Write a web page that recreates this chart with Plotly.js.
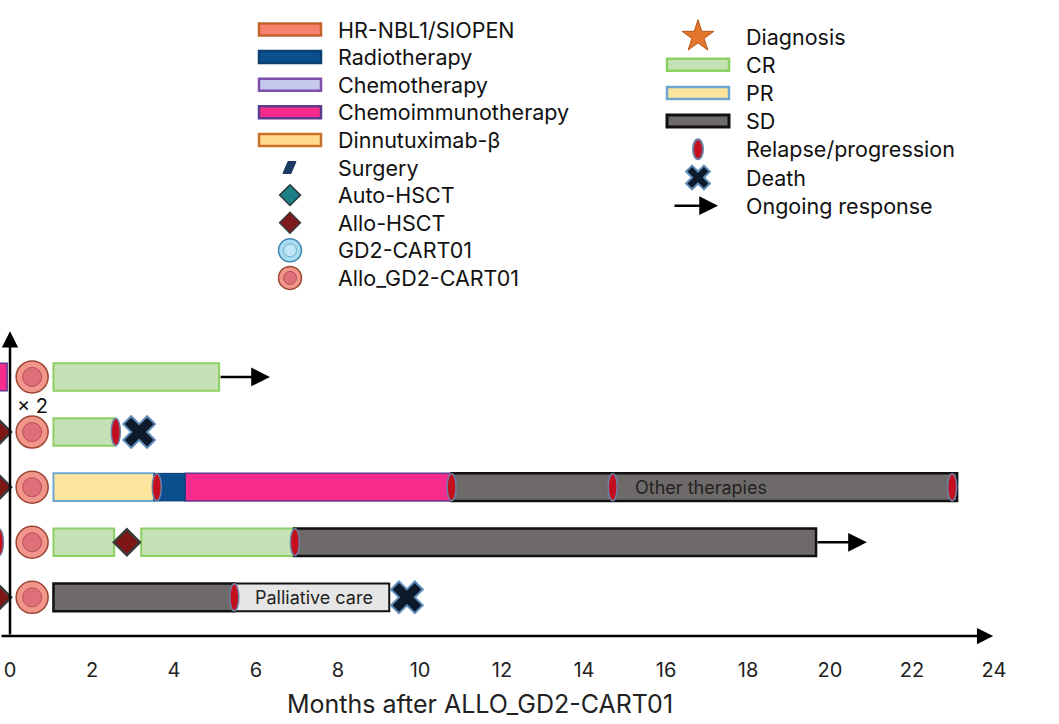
<!DOCTYPE html>
<html><head><meta charset="utf-8">
<script src="https://cdn.plot.ly/plotly-3.0.1.min.js"></script>
<style>html,body{margin:0;padding:0;background:#fff}</style>
</head><body><div id="chart" style="width:1059px;height:724px"></div>
<script>
// ---------------- DATA ----------------
// patients, top to bottom (one swim lane each)
const patientRows = [5, 4, 3, 2, 1];
// time of Allo_GD2-CART01 infusion (months)
const infusionTime = [0.54, 0.54, 0.54, 0.54, 0.54];

// treatment / response segments (months after ALLO_GD2-CART01)
const segRow   = [5, 5, 4, 3, 3, 3, 3, 2, 2, 2, 1, 1];
const segStart = [-1.0, 1.06, 1.06, 1.06, 3.51, 4.27, 10.77, 1.06, 3.20, 6.93, 1.06, 5.47];
const segEnd   = [-0.07, 5.10, 2.57, 3.51, 4.27, 10.77, 23.10, 2.54, 6.93, 19.66, 5.47, 9.25];
const segType  = ['Chemoimmunotherapy', 'CR', 'CR', 'PR', 'Radiotherapy', 'Chemoimmunotherapy',
                  'SD', 'CR', 'CR', 'SD', 'SD', 'Palliative care'];

// relapse / progression events
const relapseRow  = [4, 3, 3, 3, 3, 2, 2, 1];
const relapseTime = [2.58, 3.58, 10.77, 14.70, 22.98, -0.27, 6.95, 5.47];

// deaths
const deathRow  = [4, 1];
const deathTime = [3.15, 9.68];

// Allo-HSCT
const hsctRow  = [4, 3, 2, 1];
const hsctTime = [-0.29, -0.29, 2.85, -0.29];

// ongoing responses (arrows)
const ongoingRow  = [5, 2];
const ongoingFrom = [5.10, 19.66];
const ongoingTo   = [6.34, 20.90];

// text notes inside lanes
const noteText = ['Other therapies', 'Palliative care'];
const noteRow  = [3, 1];
const noteTime = [16.85, 7.41];

// axis ticks
const xTicks = [0, 2, 4, 6, 8, 10, 12, 14, 16, 18, 20, 22, 24];
const xTitle = 'Months after ALLO_GD2-CART01';

// legend labels
const legendLeft  = ['HR-NBL1/SIOPEN', 'Radiotherapy', 'Chemotherapy', 'Chemoimmunotherapy',
                     'Dinnutuximab-β', 'Surgery', 'Auto-HSCT', 'Allo-HSCT', 'GD2-CART01', 'Allo_GD2-CART01'];
const legendRight = ['Diagnosis', 'CR', 'PR', 'SD', 'Relapse/progression', 'Death', 'Ongoing response'];

// ---------------- STYLES ----------------
const FONT = 'Inter, "Open Sans", sans-serif';
const style = {
  'HR-NBL1/SIOPEN':     {fill: '#F8806E', line: '#C4622C', w: 2},
  'Radiotherapy':       {fill: '#0B4F8E', line: '#0B3F72', w: 1},
  'Chemotherapy':       {fill: '#C7C8EE', line: '#7B4FAA', w: 2},
  'Chemoimmunotherapy': {fill: '#F72B8C', line: '#5E3A8E', w: 1.5},
  'Dinnutuximab-β':     {fill: '#FFD98C', line: '#C8702A', w: 2},
  'CR':                 {fill: '#C7E1B6', line: '#8DD062', w: 2},
  'PR':                 {fill: '#FDE59D', line: '#6FA6CF', w: 2},
  'SD':                 {fill: '#6F6A6A', line: '#111111', w: 2.5},
  'Palliative care':    {fill: '#E6E6E6', line: '#111111', w: 2}
};
const BAR_W = 0.5;

// ---------------- TRACES ----------------
const traces = [];
const types = [...new Set(segType)];
types.forEach(t => {
  const idx = segType.map((s, i) => s === t ? i : -1).filter(i => i >= 0);
  traces.push({
    type: 'bar', orientation: 'h', name: t, showlegend: false, hoverinfo: 'skip',
    y: idx.map(i => segRow[i]),
    base: idx.map(i => segStart[i]),
    x: idx.map(i => segEnd[i] - segStart[i]),
    width: idx.map(() => BAR_W),
    marker: {color: style[t].fill, line: {color: style[t].line, width: style[t].w}},
    xaxis: 'x', yaxis: 'y'
  });
});

// Allo-HSCT diamonds
traces.push({
  type: 'scatter', mode: 'markers', x: hsctTime, y: hsctRow, hoverinfo: 'skip', showlegend: false,
  marker: {symbol: 'diamond', size: 20, color: '#7E1616', line: {color: '#3A3A3A', width: 2.5}}
});
// infusion circles
traces.push({
  type: 'scatter', mode: 'markers', x: infusionTime, y: patientRows, hoverinfo: 'skip', showlegend: false,
  marker: {symbol: 'circle', size: 32, color: '#F2958A', line: {color: '#9A4632', width: 1.5}}
});
traces.push({
  type: 'scatter', mode: 'markers', x: infusionTime, y: patientRows, hoverinfo: 'skip', showlegend: false,
  marker: {symbol: 'circle', size: 19, color: '#DF7079', line: {color: '#B4505A', width: 1}}
});
// deaths
traces.push({
  type: 'scatter', mode: 'markers', x: deathTime, y: deathRow, hoverinfo: 'skip', showlegend: false,
  marker: {symbol: 'x', size: 28, color: '#0C1A2C', line: {color: '#5F8DB8', width: 2}}
});

// ---------------- SHAPES ----------------
const shapes = [];
// relapse ovals
relapseTime.forEach((t, i) => {
  shapes.push({type: 'circle', xref: 'x', yref: 'y',
    x0: t - 0.11, x1: t + 0.11, y0: relapseRow[i] - 0.245, y1: relapseRow[i] + 0.245,
    fillcolor: '#C4101E', line: {color: '#6C80A8', width: 1.5}});
});

// ---------------- ANNOTATIONS ----------------
const ann = [];
// ongoing arrows
ongoingRow.forEach((r, i) => {
  ann.push({xref: 'x', yref: 'y', axref: 'x', ayref: 'y', x: ongoingTo[i], y: r, ax: ongoingFrom[i], ay: r,
    text: '', showarrow: true, arrowhead: 2, arrowsize: 1.5, arrowwidth: 2.5, arrowcolor: '#000'});
});
// notes
noteText.forEach((t, i) => {
  ann.push({xref: 'x', yref: 'y', x: noteTime[i], y: noteRow[i], text: t, showarrow: false,
    font: {family: FONT, size: 18, color: '#222'}});
});
ann.push({xref: 'x', yref: 'y', x: infusionTime[0], y: patientRows[0] - 0.53, text: '× 2', showarrow: false,
  font: {family: FONT, size: 20, color: '#111'}});

// axes as arrows
const Y0 = 0.299, Y1 = 6.396, X0 = -0.244, X1 = 25.585;
ann.push({xref: 'x', yref: 'y', axref: 'x', ayref: 'y', x: 0, y: 5.83, ax: 0, ay: Y0,
  text: '', showarrow: true, arrowhead: 2, arrowsize: 1.3, arrowwidth: 2.5, arrowcolor: '#000'});
ann.push({xref: 'x', yref: 'y', axref: 'x', ayref: 'y', x: 23.98, y: Y0, ax: X0, ay: Y0,
  text: '', showarrow: true, arrowhead: 2, arrowsize: 1.3, arrowwidth: 2.5, arrowcolor: '#000'});
// x title
ann.push({xref: 'x', yref: 'paper', x: 11.47, y: -0.107, yanchor: 'middle', text: xTitle, showarrow: false,
  font: {family: FONT, size: 25, color: '#222'}});

// ---------------- LEGEND (drawn on a pixel-unit overlay axis) ----------------
const LF = {family: FONT, size: 21.5, color: '#111'};
const L = {symX: 290, textX: 336, y0: 29.5, dy: 27.6, rw: 62, rh: 12};
const R = {symX: 698, textX: 744, y0: 36.5, dy: 28.2};
const ly = i => L.y0 + i * L.dy;
const ry = i => R.y0 + i * R.dy;
legendLeft.forEach((lab, i) => {
  ann.push({xref: 'x2', yref: 'y2', x: L.textX, y: ly(i), xanchor: 'left', yanchor: 'middle',
    text: lab, showarrow: false, font: LF});
  if (style[lab]) {
    shapes.push({type: 'rect', xref: 'x2', yref: 'y2', x0: L.symX - L.rw / 2, x1: L.symX + L.rw / 2,
      y0: ly(i) - L.rh / 2, y1: ly(i) + L.rh / 2, fillcolor: style[lab].fill,
      line: {color: style[lab].line, width: 2.5}});
  }
});
legendRight.forEach((lab, i) => {
  ann.push({xref: 'x2', yref: 'y2', x: R.textX, y: ry(i), xanchor: 'left', yanchor: 'middle',
    text: lab, showarrow: false, font: LF});
  if (style[lab]) {
    shapes.push({type: 'rect', xref: 'x2', yref: 'y2', x0: R.symX - 31, x1: R.symX + 31,
      y0: ry(i) - 6, y1: ry(i) + 6, fillcolor: style[lab].fill,
      line: {color: style[lab].line, width: lab === 'SD' ? 3 : 2.5}});
  }
});
// surgery parallelogram
const sy = ly(5);
shapes.push({type: 'path', xref: 'x2', yref: 'y2',
  path: `M ${L.symX - 2} ${sy - 6} L ${L.symX + 6} ${sy - 6} L ${L.symX + 1} ${sy + 6} L ${L.symX - 7} ${sy + 6} Z`,
  fillcolor: '#1C3A63', line: {color: '#1C3A63', width: 1}});
// relapse oval (legend)
shapes.push({type: 'circle', xref: 'x2', yref: 'y2', x0: R.symX - 5, x1: R.symX + 5,
  y0: ry(4) - 10, y1: ry(4) + 10, fillcolor: '#C4101E', line: {color: '#6C80A8', width: 2}});
// ongoing arrow (legend)
ann.push({xref: 'x2', yref: 'y2', axref: 'x2', ayref: 'y2', x: R.symX + 20, y: ry(6), ax: R.symX - 25, ay: ry(6),
  text: '', showarrow: true, arrowhead: 2, arrowsize: 1.5, arrowwidth: 2.5, arrowcolor: '#000'});
// legend markers
const legMk = (x, y, marker) => traces.push({type: 'scatter', mode: 'markers', x: [x], y: [y],
  xaxis: 'x2', yaxis: 'y2', hoverinfo: 'skip', showlegend: false, cliponaxis: false, marker});
legMk(L.symX, ly(6), {symbol: 'diamond', size: 16, color: '#1D7F86', line: {color: '#2A3A3E', width: 1.5}});
legMk(L.symX, ly(7), {symbol: 'diamond', size: 16, color: '#7E1A1E', line: {color: '#3A3A3A', width: 1.5}});
legMk(L.symX, ly(8), {symbol: 'circle', size: 23, color: '#A9DCF1', line: {color: '#3E84AE', width: 1.5}});
legMk(L.symX, ly(8), {symbol: 'circle', size: 13, color: '#BFE6F6', line: {color: '#6FAFD0', width: 1}});
legMk(L.symX, ly(9), {symbol: 'circle', size: 23, color: '#F2958A', line: {color: '#9A4632', width: 1.5}});
legMk(L.symX, ly(9), {symbol: 'circle', size: 13, color: '#DF7079', line: {color: '#B4505A', width: 1}});
legMk(R.symX, ry(0), {symbol: 'star', size: 24, color: '#E4772E', line: {color: '#B5571C', width: 1}});
legMk(R.symX, ry(5), {symbol: 'x', size: 21, color: '#0C1A2C', line: {color: '#5F8DB8', width: 2}});

// ---------------- LAYOUT ----------------
const layout = {
  width: 1059, height: 724,
  margin: {l: 0, r: 0, t: 0, b: 88},
  paper_bgcolor: '#fff', plot_bgcolor: 'rgba(0,0,0,0)',
  font: {family: FONT, color: '#222'},
  barmode: 'overlay',
  showlegend: false,
  xaxis: {domain: [0, 1], range: [X0, X1], tickvals: xTicks, ticktext: xTicks.map(String),
    showgrid: false, zeroline: false, showline: false, ticks: '', ticklabelstandoff: 20,
    tickfont: {family: FONT, size: 20, color: '#222'}, fixedrange: true, anchor: 'y'},
  yaxis: {domain: [0, 336 / 636], range: [Y0, Y1], visible: false, fixedrange: true, anchor: 'x'},
  xaxis2: {domain: [0, 1], range: [0, 1059], visible: false, fixedrange: true, anchor: 'y2'},
  yaxis2: {domain: [0, 1], range: [636, 0], visible: false, fixedrange: true, anchor: 'x2'},
  shapes: shapes,
  annotations: ann
};

Plotly.newPlot('chart', traces, layout, {displayModeBar: false, staticPlot: true});
</script>
</body></html>
